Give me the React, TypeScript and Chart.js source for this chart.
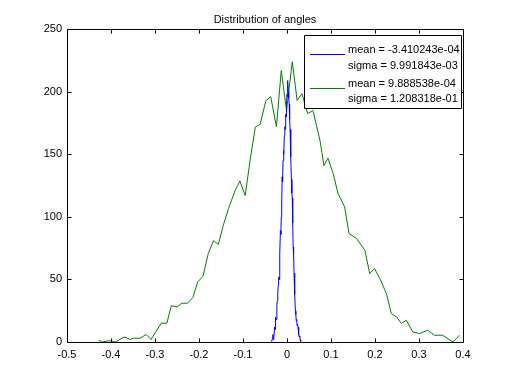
import React, { useEffect, useRef } from "react";
import { Chart, registerables } from "chart.js";

Chart.register(...registerables);

const TITLE = "Distribution of angles";

const X_TICK_MIN = -0.5;
const X_TICK_MAX = 0.4;
const X_TICK_STEP = 0.1;
const Y_TICK_MIN = 0;
const Y_TICK_MAX = 250;
const Y_TICK_STEP = 50;

const blueX = [
  -0.035, -0.033, -0.032, -0.031, -0.03, -0.028, -0.027, -0.026, -0.025, -0.023,
  -0.022, -0.021, -0.02, -0.019, -0.018, -0.017, -0.016, -0.015, -0.014, -0.013,
  -0.012, -0.011, -0.01, -0.009, -0.008, -0.007, -0.006, -0.005, -0.004, -0.003,
  -0.002, -0.001, 0.0, 0.001, 0.002, 0.003, 0.004, 0.005, 0.006, 0.007,
  0.008, 0.009, 0.01, 0.011, 0.012, 0.013, 0.014, 0.015, 0.016, 0.017,
  0.018, 0.019, 0.02, 0.021, 0.022, 0.023, 0.024, 0.025, 0.026, 0.027,
  0.028, 0.029, 0.03, 0.031,
];
const blueY = [
  0, 3, 6, 2, 4, 12, 10, 20, 18, 30,
  33, 39, 45, 52, 50, 65, 70, 89, 86, 100,
  112, 132, 128, 145, 153, 150, 165, 172, 170, 182,
  180, 190, 198, 196, 209, 200, 195, 190, 178, 170,
  151, 148, 130, 119, 115, 95, 76, 70, 55, 41,
  38, 25, 22, 17, 18, 13, 14, 12, 8, 6,
  4, 5, 2, 0,
];

const greenX = [
  -0.428, -0.42, -0.405, -0.39, -0.37, -0.356, -0.349, -0.334, -0.32, -0.309,
  -0.286, -0.273, -0.263, -0.25, -0.239, -0.226, -0.214, -0.203, -0.191, -0.179,
  -0.167, -0.156, -0.145, -0.133, -0.118, -0.107, -0.095, -0.084, -0.072, -0.061,
  -0.048, -0.037, -0.024, -0.013, -0.001, 0.012, 0.023, 0.034, 0.047, 0.059,
  0.075, 0.084, 0.093, 0.105, 0.116, 0.131, 0.141, 0.158, 0.177, 0.188,
  0.199, 0.211, 0.226, 0.237, 0.249, 0.26, 0.271, 0.286, 0.301, 0.32,
  0.335, 0.354, 0.377, 0.392,
];
const greenY = [
  1.4, 0, 1, 0, 4, 2, 3, 3, 6, 2,
  15, 15, 29, 28, 31, 31, 35.5, 48, 52.5, 70.7,
  81, 78, 93, 106.6, 121, 128.7, 117, 145, 171.8, 174,
  193, 196, 172, 217, 185, 224, 193, 198.5, 182.5, 185,
  161, 141, 147, 134.6, 118.6, 108, 86.7, 82.7, 73.3, 54.7,
  58.7, 50.7, 38.7, 22.8, 20, 14.8, 17.4, 8, 6.8, 9.4,
  5.4, 5.4, 0, 5.4,
];

const legendLines = [
  ["mean = -3.410243e-04", "sigma = 9.991843e-03"],
  ["mean = 9.888538e-04", "sigma = 1.208318e-01"],
];
const seriesColors = ["#0000ff", "#008000"];

const FONT = "'Liberation Sans', Arial, Helvetica, sans-serif";

const boxPlugin = {
  id: "matlabBox",
  afterDraw(chart: any) {
    const { ctx, chartArea } = chart;
    const { left, right, top, bottom } = chartArea;
    const xs = chart.scales.x;
    const ys = chart.scales.y;
    ctx.save();
    ctx.strokeStyle = "#000";
    ctx.lineWidth = 1;
    ctx.beginPath();
    const L = Math.round(left) + 0.5;
    const R = Math.round(right) + 0.5;
    const T = Math.round(top) + 0.5;
    const B = Math.round(bottom) + 0.5;
    ctx.rect(L, T, R - L, B - T);
    const tl = 4;
    xs.ticks.forEach((t: any) => {
      const px = Math.round(xs.getPixelForValue(t.value)) + 0.5;
      ctx.moveTo(px, B);
      ctx.lineTo(px, B - tl);
      ctx.moveTo(px, T);
      ctx.lineTo(px, T + tl);
    });
    ys.ticks.forEach((t: any) => {
      const py = Math.round(ys.getPixelForValue(t.value)) + 0.5;
      ctx.moveTo(L, py);
      ctx.lineTo(L + tl, py);
      ctx.moveTo(R, py);
      ctx.lineTo(R - tl, py);
    });
    ctx.stroke();

    // legend box
    const bx = 304.5, by = 35.5, bw = 157, bh = 73;
    ctx.fillStyle = "#fff";
    ctx.fillRect(bx, by, bw, bh);
    ctx.beginPath();
    ctx.rect(bx, by, bw, bh);
    ctx.stroke();
    ctx.font = `11px ${FONT}`;
    ctx.textBaseline = "middle";
    ctx.textAlign = "left";
    ctx.fillStyle = "#000";
    const rowsY = [[50, 66], [84, 99]];
    const lineY = [54, 88];
    legendLines.forEach((lines, i) => {
      ctx.strokeStyle = seriesColors[i];
      ctx.beginPath();
      ctx.moveTo(310, lineY[i] + 0.5);
      ctx.lineTo(345, lineY[i] + 0.5);
      ctx.stroke();
      lines.forEach((txt, j) => {
        ctx.fillText(txt, 348, rowsY[i][j]);
      });
    });
    ctx.restore();
  },
};

export default function App() {
  const ref = useRef<HTMLCanvasElement | null>(null);
  useEffect(() => {
    document.body.style.margin = "0";
    const canvas = ref.current;
    if (!canvas) return;
    const chart = new Chart(canvas, {
      type: "line",
      data: {
        datasets: [
          {
            label: "blue",
            data: blueX.map((x, i) => ({ x, y: blueY[i] })),
            borderColor: seriesColors[0],
            borderWidth: 1,
            pointRadius: 0,
            tension: 0,
            fill: false,
          },
          {
            label: "green",
            data: greenX.map((x, i) => ({ x, y: greenY[i] })),
            borderColor: seriesColors[1],
            borderWidth: 1,
            pointRadius: 0,
            tension: 0,
            fill: false,
          },
        ],
      },
      options: {
        responsive: false,
        animation: false,
        events: [],
        layout: { padding: { left: 0, right: 49, top: 0, bottom: 0 } },
        plugins: {
          legend: { display: false },
          tooltip: { enabled: false },
          title: {
            display: true,
            text: TITLE,
            fullSize: false,
            color: "#000",
            font: { family: FONT, size: 11, weight: "normal" },
            padding: { top: 13, bottom: 3 },
          },
        },
        scales: {
          x: {
            type: "linear",
            min: X_TICK_MIN,
            max: X_TICK_MAX,
            grid: { display: false, drawTicks: false },
            border: { display: false },
            ticks: {
              stepSize: X_TICK_STEP,
              color: "#000",
              padding: 6,
              maxRotation: 0,
              font: { family: FONT, size: 11 },
              callback: (v: any) => String(Math.round(Number(v) * 10) / 10),
            },
            afterFit: (s: any) => {
              s.height = 42;
            },
          },
          y: {
            type: "linear",
            min: Y_TICK_MIN,
            max: Y_TICK_MAX,
            grid: { display: false, drawTicks: false },
            border: { display: false },
            ticks: {
              stepSize: Y_TICK_STEP,
              color: "#000",
              padding: 5,
              font: { family: FONT, size: 11 },
            },
            afterFit: (s: any) => {
              s.width = 67;
            },
          },
        },
      },
      plugins: [boxPlugin],
    });
    return () => chart.destroy();
  }, []);
  return (
    <div style={{ width: 512, height: 384, background: "#fff" }}>
      <canvas ref={ref} width={512} height={384} style={{ display: "block" }} />
    </div>
  );
}
